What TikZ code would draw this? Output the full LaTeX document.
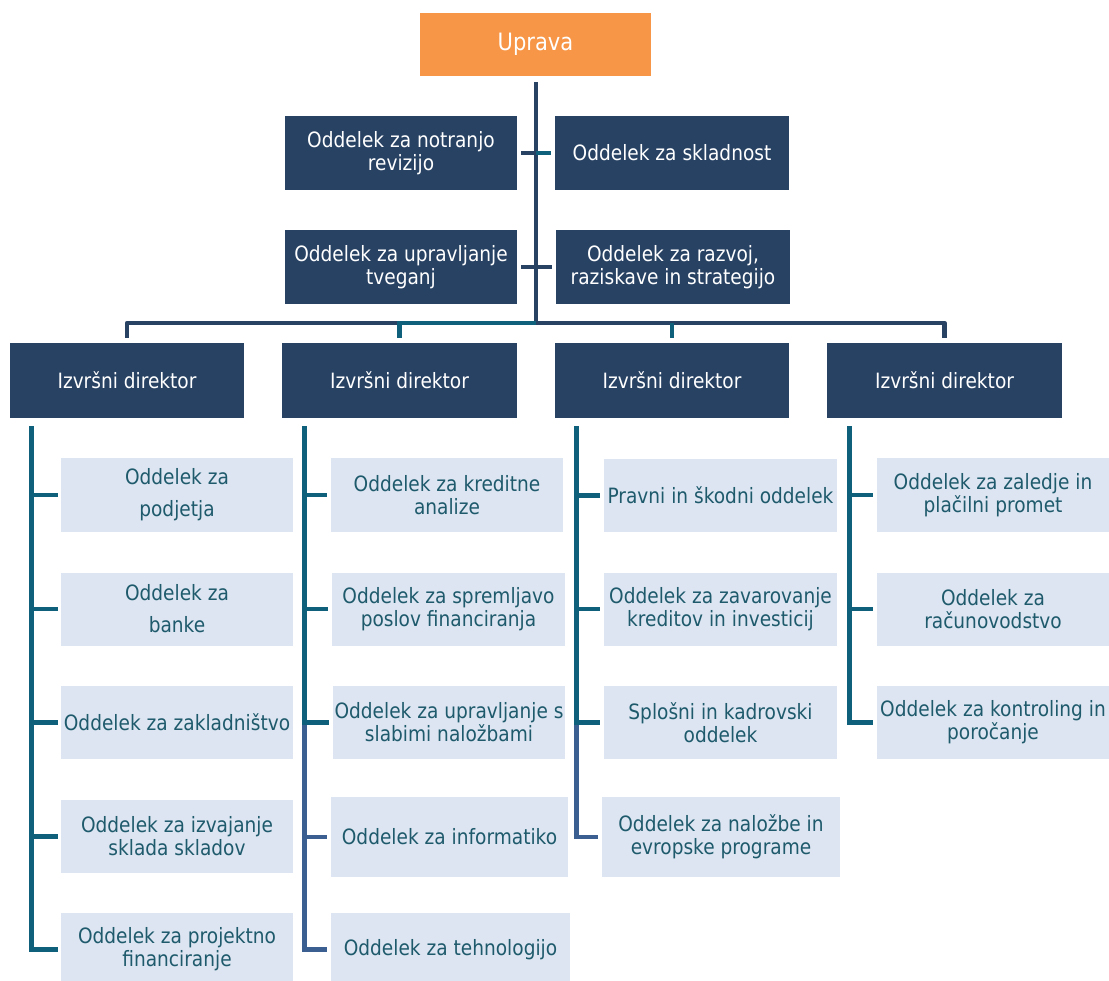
\documentclass[tikz,border=0pt]{standalone}
\usepackage{fontspec}
\setmainfont{DejaVu Sans}[FakeStretch=0.88]
\usepackage{tikz}
\usetikzlibrary{positioning, calc}
\definecolor{upravaorange}{HTML}{F79646}
\definecolor{navyblue}{HTML}{284264}
\definecolor{lineteal}{HTML}{0F607B}
\definecolor{lineblue}{HTML}{3C5F91}
\definecolor{deptfill}{HTML}{DCE5F1}
\definecolor{depttext}{HTML}{1E5A6C}

\tikzset{
  boxfont/.style={font=\fontsize{15}{16.4}\selectfont},
  topbox/.style={font=\fontsize{17}{19}\selectfont, fill=upravaorange, text=white, minimum width=5.775cm, minimum height=1.575cm, inner sep=0pt},
  staffbox/.style={boxfont, fill=navyblue, text=white, align=center, minimum width=5.8cm, minimum height=1.85cm, inner sep=0pt},
  dirbox/.style={staffbox, minimum width=5.85cm, minimum height=1.875cm},
  deptbox/.style={boxfont, fill=deptfill, text=depttext, align=center, minimum width=5.8cm, minimum height=1.825cm, inner sep=0pt},
  navyline/.style={draw=navyblue, line width=3.3pt},
  tealline/.style={draw=lineteal, line width=3.3pt},
  blueline/.style={draw=lineblue, line width=3.3pt},
}

\begin{document}
\begin{tikzpicture}[x=0.025cm, y=-0.025cm]
  \useasboundingbox (0,0) rectangle (1109,980);

  % management and staff departments
  \node[topbox] (uprava) at (535.5,44.5) {Uprava};
  \node[staffbox] (revizija) at (401,153) {Oddelek za notranjo\\revizijo};
  \node[staffbox, minimum width=5.85cm] (skladnost) at (672,153) {Oddelek za skladnost};
  \node[staffbox] (tveganja) at (401,267) {Oddelek za upravljanje\\tveganj};
  \node[staffbox, minimum width=5.85cm] (razvoj) at (673,267) {Oddelek za razvoj,\\raziskave in strategijo};

  % executive directors
  \node[dirbox] (dir1) at (127,380.5) {Izvršni direktor};
  \node[dirbox] (dir2) at (399.5,380.5) {Izvršni direktor};
  \node[dirbox] (dir3) at (672,380.5) {Izvršni direktor};
  \node[dirbox] (dir4) at (944.5,380.5) {Izvršni direktor};

  % departments
  \node[deptbox] (d11) at (177,495) {Oddelek za\\[6.4pt]podjetja};
  \node[deptbox] (d12) at (177,609) {Oddelek za\\[6.4pt]banke};
  \node[deptbox] (d13) at (177,722.5) {Oddelek za zakladništvo};
  \node[deptbox] (d14) at (177,836.5) {Oddelek za izvajanje\\sklada skladov};
  \node[deptbox] (d15) at (177,949.5) {Oddelek za projektno\\financiranje};

  \node[deptbox] (d21) at (447,495) {Oddelek za kreditne\\analize};
  \node[deptbox] (d22) at (448.5,609) {Oddelek za spremljavo\\poslov financiranja};
  \node[deptbox] (d23) at (449,722.5) {Oddelek za upravljanje s\\slabimi naložbami};
  \node[deptbox, minimum width=5.925cm, minimum height=2cm] (d24) at (449.5,837) {Oddelek za informatiko};
  \node[deptbox, minimum width=5.975cm] (d25) at (450.5,949.5) {Oddelek za tehnologijo};

  \node[deptbox] (d31) at (720.5,495.5) {Pravni in škodni oddelek};
  \node[deptbox] (d32) at (720.5,609) {Oddelek za zavarovanje\\kreditov in investicij};
  \node[deptbox] (d33) at (720.5,722.5) {Splošni in kadrovski\\oddelek};
  \node[deptbox, minimum width=5.95cm, minimum height=2cm] (d34) at (721,837) {Oddelek za naložbe in\\evropske programe};

  \node[deptbox] (d41) at (993,495) {Oddelek za zaledje in\\plačilni promet};
  \node[deptbox] (d42) at (993,609) {Oddelek za\\računovodstvo};
  \node[deptbox] (d43) at (993,722.5) {Oddelek za kontroling in\\poročanje};

  % trunk and staff ticks
  \coordinate (trunktop) at (536,82);
  \coordinate (trunkbot) at (536,323);
  \draw[navyline] (trunktop) -- (trunkbot);
  \draw[navyline] ([xshift=0.1cm]revizija.east) -- (trunktop |- revizija.east);
  \draw[tealline] (trunktop |- skladnost.west) -- ([xshift=-0.1cm]skladnost.west);
  \draw[navyline] ([xshift=0.1cm]tveganja.east) -- ([xshift=-0.1cm]razvoj.west);

  % bar to the directors
  \draw[navyline, line join=round] ([yshift=0.125cm]dir1.north) |- (trunkbot) -| ([yshift=0.125cm]dir4.north);
  \draw[tealline] ([yshift=0.125cm]dir2.north) |- (trunkbot);
  \draw[tealline] ([yshift=0.125cm]dir3.north) -- (dir3.north |- trunkbot);

  % department columns
  \coordinate (c1top) at ([xshift=0.55cm, yshift=-0.2cm]dir1.south west);
  \coordinate (c2top) at ([xshift=0.55cm, yshift=-0.2cm]dir2.south west);
  \coordinate (c3top) at ([xshift=0.55cm, yshift=-0.2cm]dir3.south west);
  \coordinate (c4top) at ([xshift=0.55cm, yshift=-0.2cm]dir4.south west);

  \draw[tealline] (c1top) |- ([xshift=-0.075cm]d15.west);
  \foreach \d in {d11,d12,d13,d14}
    \draw[tealline] (c1top |- \d.west) -- ([xshift=-0.075cm]\d.west);

  \draw[blueline] (c2top |- d23.west) |- ([xshift=-0.1cm]d25.west);
  \draw[blueline] (c2top |- d24.west) -- ([xshift=-0.1cm]d24.west);
  \draw[tealline] (c2top) |- ([xshift=-0.1cm]d23.west);
  \foreach \d in {d21,d22}
    \draw[tealline] (c2top |- \d.west) -- ([xshift=-0.1cm]\d.west);

  \draw[blueline] (c3top |- d33.west) |- ([xshift=-0.1cm]d34.west);
  \draw[tealline] (c3top) |- ([xshift=-0.1cm]d33.west);
  \foreach \d in {d31,d32}
    \draw[tealline] (c3top |- \d.west) -- ([xshift=-0.1cm]\d.west);

  \draw[tealline] (c4top) |- ([xshift=-0.1cm]d43.west);
  \foreach \d in {d41,d42}
    \draw[tealline] (c4top |- \d.west) -- ([xshift=-0.1cm]\d.west);
\end{tikzpicture}
\end{document}
